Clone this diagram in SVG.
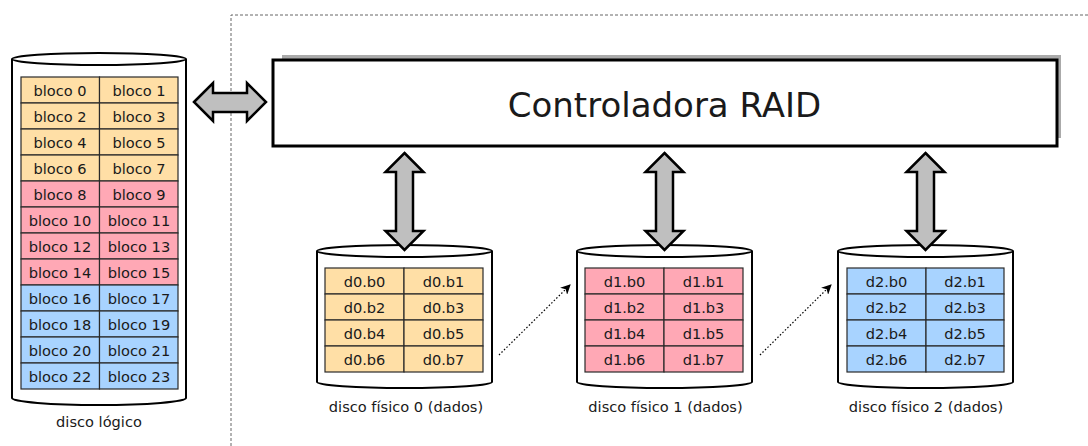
<svg xmlns="http://www.w3.org/2000/svg" width="1088" height="446" viewBox="0 0 1088 446">
<style>
text{font-family:"DejaVu Sans","Liberation Sans",sans-serif;fill:#1a1a1a}
.c{font-size:14.6px;text-anchor:middle}
.cyl{fill:#fff;stroke:#000;stroke-width:2}
.y{fill:#ffdfa6;stroke:#2a2a2a;stroke-width:1.2}
.p{fill:#ffa8b5;stroke:#2a2a2a;stroke-width:1.2}
.b{fill:#a8d3ff;stroke:#2a2a2a;stroke-width:1.2}
.arr{fill:#bfbfbf;stroke:#000;stroke-width:2.5;stroke-linejoin:miter}
.dot{fill:none;stroke:#000;stroke-width:1.2;stroke-dasharray:1.5 2}
</style>
<defs>
<marker id="ah" viewBox="0 0 10 10" refX="9" refY="5" markerWidth="10" markerHeight="10" markerUnits="userSpaceOnUse" orient="auto">
<path d="M0,0 L10,5 L0,10 L3,5 Z" fill="#000"/>
</marker>
</defs>
<path d="M231,446 L231,15 L1088,15" fill="none" stroke="#666" stroke-width="1" stroke-dasharray="3 2"/>

<g id="controladora">
<rect x="282" y="55" width="779" height="83" fill="#aaa"/>
<rect x="273" y="60" width="784" height="86" fill="#fff" stroke="#000" stroke-width="3"/>
<text x="664.5" y="117" style="font-size:34px;text-anchor:middle">Controladora RAID</text>
</g>

<g id="disco-logico">
<path class="cyl" d="M12,59 L12,398 A87,7 0 0 0 186,398 L186,59"/>
<ellipse class="cyl" cx="99" cy="59" rx="87" ry="6"/>
<g class="y">
<rect x="21" y="77" width="78.5" height="26"/><rect x="99.5" y="77" width="78.5" height="26"/>
<rect x="21" y="103" width="78.5" height="26"/><rect x="99.5" y="103" width="78.5" height="26"/>
<rect x="21" y="129" width="78.5" height="26"/><rect x="99.5" y="129" width="78.5" height="26"/>
<rect x="21" y="155" width="78.5" height="26"/><rect x="99.5" y="155" width="78.5" height="26"/>
</g>
<g class="p">
<rect x="21" y="181" width="78.5" height="26"/><rect x="99.5" y="181" width="78.5" height="26"/>
<rect x="21" y="207" width="78.5" height="26"/><rect x="99.5" y="207" width="78.5" height="26"/>
<rect x="21" y="233" width="78.5" height="26"/><rect x="99.5" y="233" width="78.5" height="26"/>
<rect x="21" y="259" width="78.5" height="26"/><rect x="99.5" y="259" width="78.5" height="26"/>
</g>
<g class="b">
<rect x="21" y="285" width="78.5" height="26"/><rect x="99.5" y="285" width="78.5" height="26"/>
<rect x="21" y="311" width="78.5" height="26"/><rect x="99.5" y="311" width="78.5" height="26"/>
<rect x="21" y="337" width="78.5" height="26"/><rect x="99.5" y="337" width="78.5" height="26"/>
<rect x="21" y="363" width="78.5" height="26"/><rect x="99.5" y="363" width="78.5" height="26"/>
</g>
<g class="c">
<text x="60" y="95.5">bloco 0</text><text x="139" y="95.5">bloco 1</text>
<text x="60" y="121.5">bloco 2</text><text x="139" y="121.5">bloco 3</text>
<text x="60" y="147.5">bloco 4</text><text x="139" y="147.5">bloco 5</text>
<text x="60" y="173.5">bloco 6</text><text x="139" y="173.5">bloco 7</text>
<text x="60" y="199.5">bloco 8</text><text x="139" y="199.5">bloco 9</text>
<text x="60" y="225.5">bloco 10</text><text x="139" y="225.5">bloco 11</text>
<text x="60" y="251.5">bloco 12</text><text x="139" y="251.5">bloco 13</text>
<text x="60" y="277.5">bloco 14</text><text x="139" y="277.5">bloco 15</text>
<text x="60" y="303.5">bloco 16</text><text x="139" y="303.5">bloco 17</text>
<text x="60" y="329.5">bloco 18</text><text x="139" y="329.5">bloco 19</text>
<text x="60" y="355.5">bloco 20</text><text x="139" y="355.5">bloco 21</text>
<text x="60" y="381.5">bloco 22</text><text x="139" y="381.5">bloco 23</text>
</g>
<text class="c" x="99" y="427">disco lógico</text>
</g>

<g id="disco-fisico-0">
<path class="cyl" d="M317,251 L317,382 A87.5,6 0 0 0 492,382 L492,251"/>
<ellipse class="cyl" cx="404.5" cy="251" rx="87.5" ry="6"/>
<g class="y">
<rect x="325" y="268" width="79" height="26"/><rect x="404" y="268" width="79" height="26"/>
<rect x="325" y="294" width="79" height="26"/><rect x="404" y="294" width="79" height="26"/>
<rect x="325" y="320" width="79" height="26"/><rect x="404" y="320" width="79" height="26"/>
<rect x="325" y="346" width="79" height="26"/><rect x="404" y="346" width="79" height="26"/>
</g>
<g class="c">
<text x="364.5" y="286.5">d0.b0</text><text x="443.5" y="286.5">d0.b1</text>
<text x="364.5" y="312.5">d0.b2</text><text x="443.5" y="312.5">d0.b3</text>
<text x="364.5" y="338.5">d0.b4</text><text x="443.5" y="338.5">d0.b5</text>
<text x="364.5" y="364.5">d0.b6</text><text x="443.5" y="364.5">d0.b7</text>
</g>
<text class="c" x="406" y="412">disco físico 0 (dados)</text>
</g>

<g id="disco-fisico-1">
<path class="cyl" d="M577,251 L577,382 A87.5,6 0 0 0 752,382 L752,251"/>
<ellipse class="cyl" cx="664.5" cy="251" rx="87.5" ry="6"/>
<g class="p">
<rect x="585" y="268" width="79" height="26"/><rect x="664" y="268" width="79" height="26"/>
<rect x="585" y="294" width="79" height="26"/><rect x="664" y="294" width="79" height="26"/>
<rect x="585" y="320" width="79" height="26"/><rect x="664" y="320" width="79" height="26"/>
<rect x="585" y="346" width="79" height="26"/><rect x="664" y="346" width="79" height="26"/>
</g>
<g class="c">
<text x="624.5" y="286.5">d1.b0</text><text x="703.5" y="286.5">d1.b1</text>
<text x="624.5" y="312.5">d1.b2</text><text x="703.5" y="312.5">d1.b3</text>
<text x="624.5" y="338.5">d1.b4</text><text x="703.5" y="338.5">d1.b5</text>
<text x="624.5" y="364.5">d1.b6</text><text x="703.5" y="364.5">d1.b7</text>
</g>
<text class="c" x="665.5" y="412">disco físico 1 (dados)</text>
</g>

<g id="disco-fisico-2">
<path class="cyl" d="M838,251 L838,382 A87.5,6 0 0 0 1013,382 L1013,251"/>
<ellipse class="cyl" cx="925.5" cy="251" rx="87.5" ry="6"/>
<g class="b">
<rect x="847" y="268" width="79" height="26"/><rect x="926" y="268" width="78" height="26"/>
<rect x="847" y="294" width="79" height="26"/><rect x="926" y="294" width="78" height="26"/>
<rect x="847" y="320" width="79" height="26"/><rect x="926" y="320" width="78" height="26"/>
<rect x="847" y="346" width="79" height="26"/><rect x="926" y="346" width="78" height="26"/>
</g>
<g class="c">
<text x="886.5" y="286.5">d2.b0</text><text x="965" y="286.5">d2.b1</text>
<text x="886.5" y="312.5">d2.b2</text><text x="965" y="312.5">d2.b3</text>
<text x="886.5" y="338.5">d2.b4</text><text x="965" y="338.5">d2.b5</text>
<text x="886.5" y="364.5">d2.b6</text><text x="965" y="364.5">d2.b7</text>
</g>
<text class="c" x="926" y="412">disco físico 2 (dados)</text>
</g>

<g id="conectores">
<polygon class="arr" points="194,102 213,83 213,93 247,93 247,83 266,102 247,121 247,112 213,112 213,121"/>
<polygon class="arr" points="404.5,153 423.5,172 413,172 413,231 423.5,231 404.5,250 385.5,231 396,231 396,172 385.5,172"/>
<polygon class="arr" points="664.5,153 683.5,172 673,172 673,231 683.5,231 664.5,250 645.5,231 656,231 656,172 645.5,172"/>
<polygon class="arr" points="925.5,153 944.5,172 934,172 934,231 944.5,231 925.5,250 906.5,231 917,231 917,172 906.5,172"/>
<line class="dot" x1="499" y1="355" x2="570" y2="285" marker-end="url(#ah)"/>
<line class="dot" x1="760" y1="355" x2="831" y2="285" marker-end="url(#ah)"/>
</g>
</svg>
